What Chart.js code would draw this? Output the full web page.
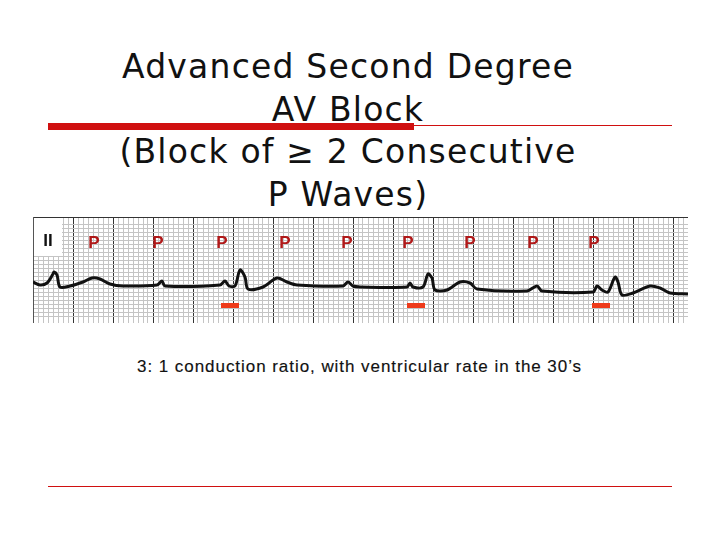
<!DOCTYPE html>
<html><head><meta charset="utf-8">
<script src="https://cdn.jsdelivr.net/npm/chart.js@4"></script>
<style>
body{margin:0;width:720px;height:540px;background:#fff;position:relative;overflow:hidden;font-family:"DejaVu Sans",sans-serif}
#title{position:absolute;left:0;width:696px;top:46px;text-align:center;font-size:33px;line-height:42.5px;color:#111;letter-spacing:1.2px}
.bar{position:absolute;background:#d01010}
#wrap{position:absolute;left:33px;top:217px;width:655px;height:106px}
#cap{position:absolute;left:137px;top:357px;font-family:Arial,"Liberation Sans",sans-serif;font-size:17px;color:#111;letter-spacing:0.95px;-webkit-text-stroke:0.15px #111}
</style></head><body>
<div id="title">Advanced Second Degree<br>AV Block<br>(Block of ≥ 2 Consecutive<br>P Waves)</div>
<div class="bar" style="left:48px;top:123px;width:366px;height:7px"></div>
<div class="bar" style="left:414px;top:125px;width:258px;height:1px"></div>
<div class="bar" style="left:48px;top:486px;width:624px;height:1px"></div>
<div id="wrap"><canvas id="c" width="655" height="106"></canvas></div>
<div id="cap">3: 1 conduction ratio, with ventricular rate in the 30’s</div>
<script>
const traceX = [33,40,47,53,54,57,60,70,83,92,100,110,123,157,162,165,220,225,229,235,240,245,248,263,277,287,297,343,348,353,360,407,410,413,423,428,432,435,447,460,470,477,527,537,542,593,597,602,608,615,618,622,633,650,660,670,688];
const traceY = [282,285,283,274,272,275,287,286,282,278,279,284,286,285,281,286,285,281,286,286,270,277,289,287,278,282,285,286,282,286,287,287,283,287,287,274,278,290,290,282,283,289,291,286,291,292,286,290,292,277,282,295,293,286,288,293,294];
const pLabelX = [94,158,222,285,347,408,470,533,594];
const blockedX = [230,416,601];
const leadLabel = "II";

const labelPlugin = {
  id:'labels',
  afterDatasetsDraw(chart){
    const {ctx,scales:{x,y}} = chart;
    ctx.save();
    ctx.fillStyle='#fff';
    ctx.fillRect(x.getPixelForValue(34),y.getPixelForValue(218),x.getPixelForValue(62)-x.getPixelForValue(34),y.getPixelForValue(256)-y.getPixelForValue(218));
    ctx.font='bold 17px Arial, "Liberation Sans", sans-serif';
    ctx.fillStyle='#111';ctx.textAlign='center';ctx.textBaseline='middle';
    ctx.fillText(leadLabel,x.getPixelForValue(48),y.getPixelForValue(241));
    ctx.fillStyle='#b01818';
    pLabelX.forEach(v=>ctx.fillText('P',x.getPixelForValue(v),y.getPixelForValue(243)));
    ctx.fillStyle='#ee3a1a';
    blockedX.forEach(v=>ctx.fillRect(x.getPixelForValue(v)-9,y.getPixelForValue(305)-2,18,5));
    ctx.restore();
  }
};
new Chart(document.getElementById('c'),{
  type:'scatter',
  data:{datasets:[{data:traceX.map((v,i)=>({x:v,y:traceY[i]})),showLine:true,borderColor:'#111',borderWidth:3,pointRadius:0,tension:0.3}]},
  options:{responsive:false,animation:false,layout:{padding:0},
    plugins:{legend:{display:false},tooltip:{enabled:false}},
    scales:{
      x:{type:'linear',min:33,max:688,ticks:{display:false,stepSize:5},grid:{color:c=>(Math.round(c.tick.value-33)%40===0)?'#333':'#c4c4c4',drawTicks:false,lineWidth:1},border:{display:true,color:'#555'}},
      y:{type:'linear',min:217,max:323,reverse:true,ticks:{display:false,stepSize:4},grid:{color:c=>(Math.round(c.tick.value-217)%20===0)?'#333':'#c4c4c4',drawTicks:false},border:{display:true,color:'#555'}}
    }},
  plugins:[labelPlugin]
});
</script>
</body></html>
